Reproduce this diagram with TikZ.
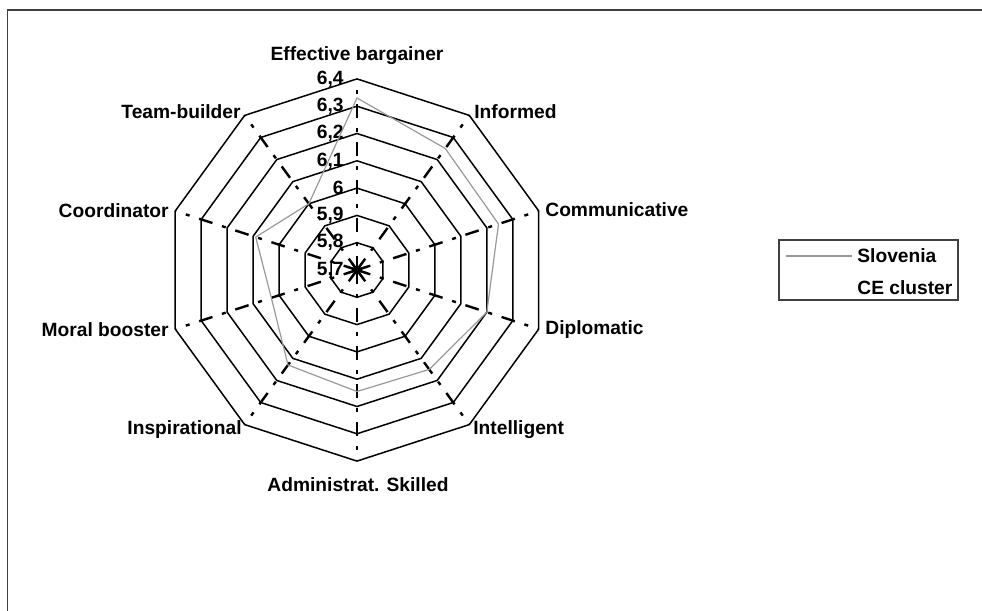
\documentclass[tikz,border=0pt]{standalone}
\usepackage{fontspec}
\setmainfont{Liberation Sans}
\usetikzlibrary{calc}

\begin{document}
\begin{tikzpicture}[x=0.5pt,y=0.5pt,
	font=\fontsize{9.6}{11}\selectfont\bfseries,
	ring/.style={line width=0.75pt},
	spoke/.style={line width=1.2pt,dash pattern=on 7pt off 5pt on 2pt off 5pt},
	slo/.style={line width=0.6pt,color=black!40},
	axlbl/.style={inner sep=0pt},
	frame/.style={line width=0.8pt,color=black!75}]
	\useasboundingbox (-357,-341) rectangle (625,270);
	\draw[frame] (-349.5,-341) |- (625,260);
	\coordinate (c) at (0,0);
	% rings 5,7 ... 6,4
	\foreach \k in {1,...,7}
		\draw[ring] (90:{27.3*\k}) \foreach \a in {54,18,...,-234} { -- (\a:{27.3*\k}) } -- cycle;
	\foreach \a in {90,54,...,-234}
		\draw[spoke] (c) -- (\a:191.1);
	\foreach \a in {90,54,...,-234}
		\draw[line width=1pt] (c) -- (\a:10);
	\foreach \v [count=\k from 0] in {{5,7},{5,8},{5,9},6,{6,1},{6,2},{6,3},{6,4}}
		\node[axlbl,anchor=east] (v\k) at (-13,{27.3*\k}) {\v};
	% Slovenia
	\draw[slo] (90:172) -- (54:150.2) -- (18:148.8) -- (-18:136.5) -- (-54:122.9)
		-- (-90:121.5) -- (-126:117.4) -- (-162:90.1) -- (162:106.5) -- (126:81.9) -- cycle;
	\node (eb) at (0,214) {Effective bargainer};
	\node[axlbl,anchor=west] (inf) at (117,158) {Informed};
	\node[axlbl,anchor=west] (com) at (188,60) {Communicative};
	\node[axlbl,anchor=west] (dip) at (188,-60) {Diplomatic};
	\node[axlbl,anchor=west] (intl) at (116,-160) {Intelligent};
	\node (adm) at (1,-215) {Administrat. Skilled};
	\node[axlbl,anchor=east] (insp) at (-115,-160) {Inspirational};
	\node[axlbl,anchor=east] (mor) at (-188,-60) {Moral booster};
	\node[axlbl,anchor=east] (coo) at (-188,59) {Coordinator};
	\node[axlbl,anchor=east] (team) at (-116,158) {Team-builder};
	% legend
	\draw[frame] (422,30) rectangle (601,-30);
	\coordinate (l1) at (429,14);
	\coordinate (l2) at (495,14);
	\draw[slo] (l1) -- (l2);
	\node[axlbl,anchor=west] (slov) at (500,14) {Slovenia};
	\node[axlbl,anchor=west] (ce) at (500,-18) {CE cluster};
\end{tikzpicture}
\end{document}
